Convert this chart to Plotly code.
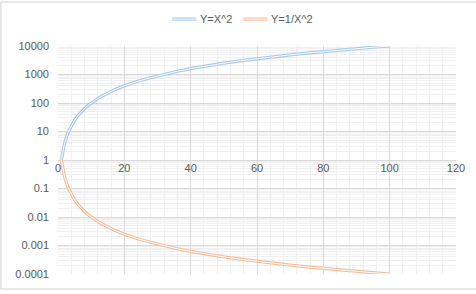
import plotly.graph_objects as go

# Data
x_vals = [1, 2, 3, 4, 5, 6, 7, 8, 9, 10, 11, 12, 13, 14, 15, 16, 17, 18, 19, 20,
          25, 30, 35, 40, 45, 50, 55, 60, 65, 70, 75, 80, 85, 90, 95, 100]
y_sq = [1, 4, 9, 16, 25, 36, 49, 64, 81, 100, 121, 144, 169, 196, 225, 256, 289, 324, 361, 400,
        625, 900, 1225, 1600, 2025, 2500, 3025, 3600, 4225, 4900, 5625, 6400, 7225, 8100, 9025, 10000]
y_inv = [1, 0.25, 0.1111, 0.0625, 0.04, 0.02778, 0.02041, 0.015625, 0.012346, 0.01,
         0.008264, 0.006944, 0.005917, 0.005102, 0.004444, 0.003906, 0.00346, 0.003086, 0.00277, 0.0025,
         0.0016, 0.001111, 0.000816, 0.000625, 0.000494, 0.0004, 0.000331, 0.000278, 0.000237,
         0.000204, 0.000178, 0.000156, 0.000138, 0.000123, 0.000111, 0.0001]
series_names = ["Y=X^2", "Y=1/X^2"]
y_tickvals = [0.0001, 0.001, 0.01, 0.1, 1, 10, 100, 1000, 10000]
y_ticktext = ["0.0001", "0.001", "0.01", "0.1", "1", "10", "100", "1000", "10000"]

blue = "#A7C8EA"
orange = "#F6BD98"

fig = go.Figure()
for yv, col, name in [(y_sq, blue, series_names[0]), (y_inv, orange, series_names[1])]:
    fig.add_trace(go.Scatter(x=x_vals, y=yv, mode="lines", name=name,
                             line=dict(color=col, width=3.2, shape="linear"),
                             showlegend=False, hoverinfo="skip"))
    fig.add_trace(go.Scatter(x=x_vals, y=yv, mode="lines", name=name,
                             line=dict(color="white", width=1, shape="linear"),
                             showlegend=False, hoverinfo="skip"))

minor_y = [m * 10 ** k for k in range(-4, 4) for m in range(2, 10)]

fig.update_layout(
    width=476, height=294,
    margin=dict(l=58, r=20, t=46, b=20),
    paper_bgcolor="white", plot_bgcolor="white",
    font=dict(family="Liberation Sans, Arial, sans-serif", size=11, color="#595959"),
    xaxis=dict(range=[0, 120], dtick=20, tick0=0, showgrid=True, gridcolor="#D9D9D9",
               gridwidth=1, zeroline=False, showline=False, ticks="",
               anchor="free", position=0.5,
               minor=dict(dtick=4, tick0=0, showgrid=True, gridcolor="#F0F0F0", gridwidth=1),
               tickfont=dict(size=11, color="#595959")),
    yaxis=dict(type="log", range=[-4, 4], tickmode="array", tickvals=y_tickvals,
               ticktext=y_ticktext, showgrid=True, gridcolor="#D9D9D9", gridwidth=1,
               zeroline=False, showline=False, ticks="", ticklabelstandoff=8,
               minor=dict(tickmode="array", tickvals=minor_y, showgrid=True,
                          gridcolor="#F0F0F0", gridwidth=1),
               tickfont=dict(size=11, color="#595959")),
)

# Chart border (Excel chart area)
fig.add_shape(type="rect", xref="paper", yref="paper",
              x0=-0.1434, x1=1.2, y0=-0.0658, y1=1.193,
              line=dict(color="#D0D0D0", width=1), layer="below")

# Manual legend with double-line symbols
leg_y = 1.118
for x0, x1, col, tx, name in [(0.2868, 0.3472, blue, 0.3522, series_names[0]),
                              (0.4654, 0.5258, orange, 0.5308, series_names[1])]:
    fig.add_shape(type="line", xref="paper", yref="paper", x0=x0, x1=x1, y0=leg_y, y1=leg_y,
                  line=dict(color=col, width=3.2))
    fig.add_shape(type="line", xref="paper", yref="paper", x0=x0, x1=x1, y0=leg_y, y1=leg_y,
                  line=dict(color="white", width=1))
    fig.add_annotation(xref="paper", yref="paper", x=tx, y=leg_y, text=name,
                       showarrow=False, xanchor="left", yanchor="middle",
                       font=dict(size=11, color="#595959"))

fig.write_html("out.html")
